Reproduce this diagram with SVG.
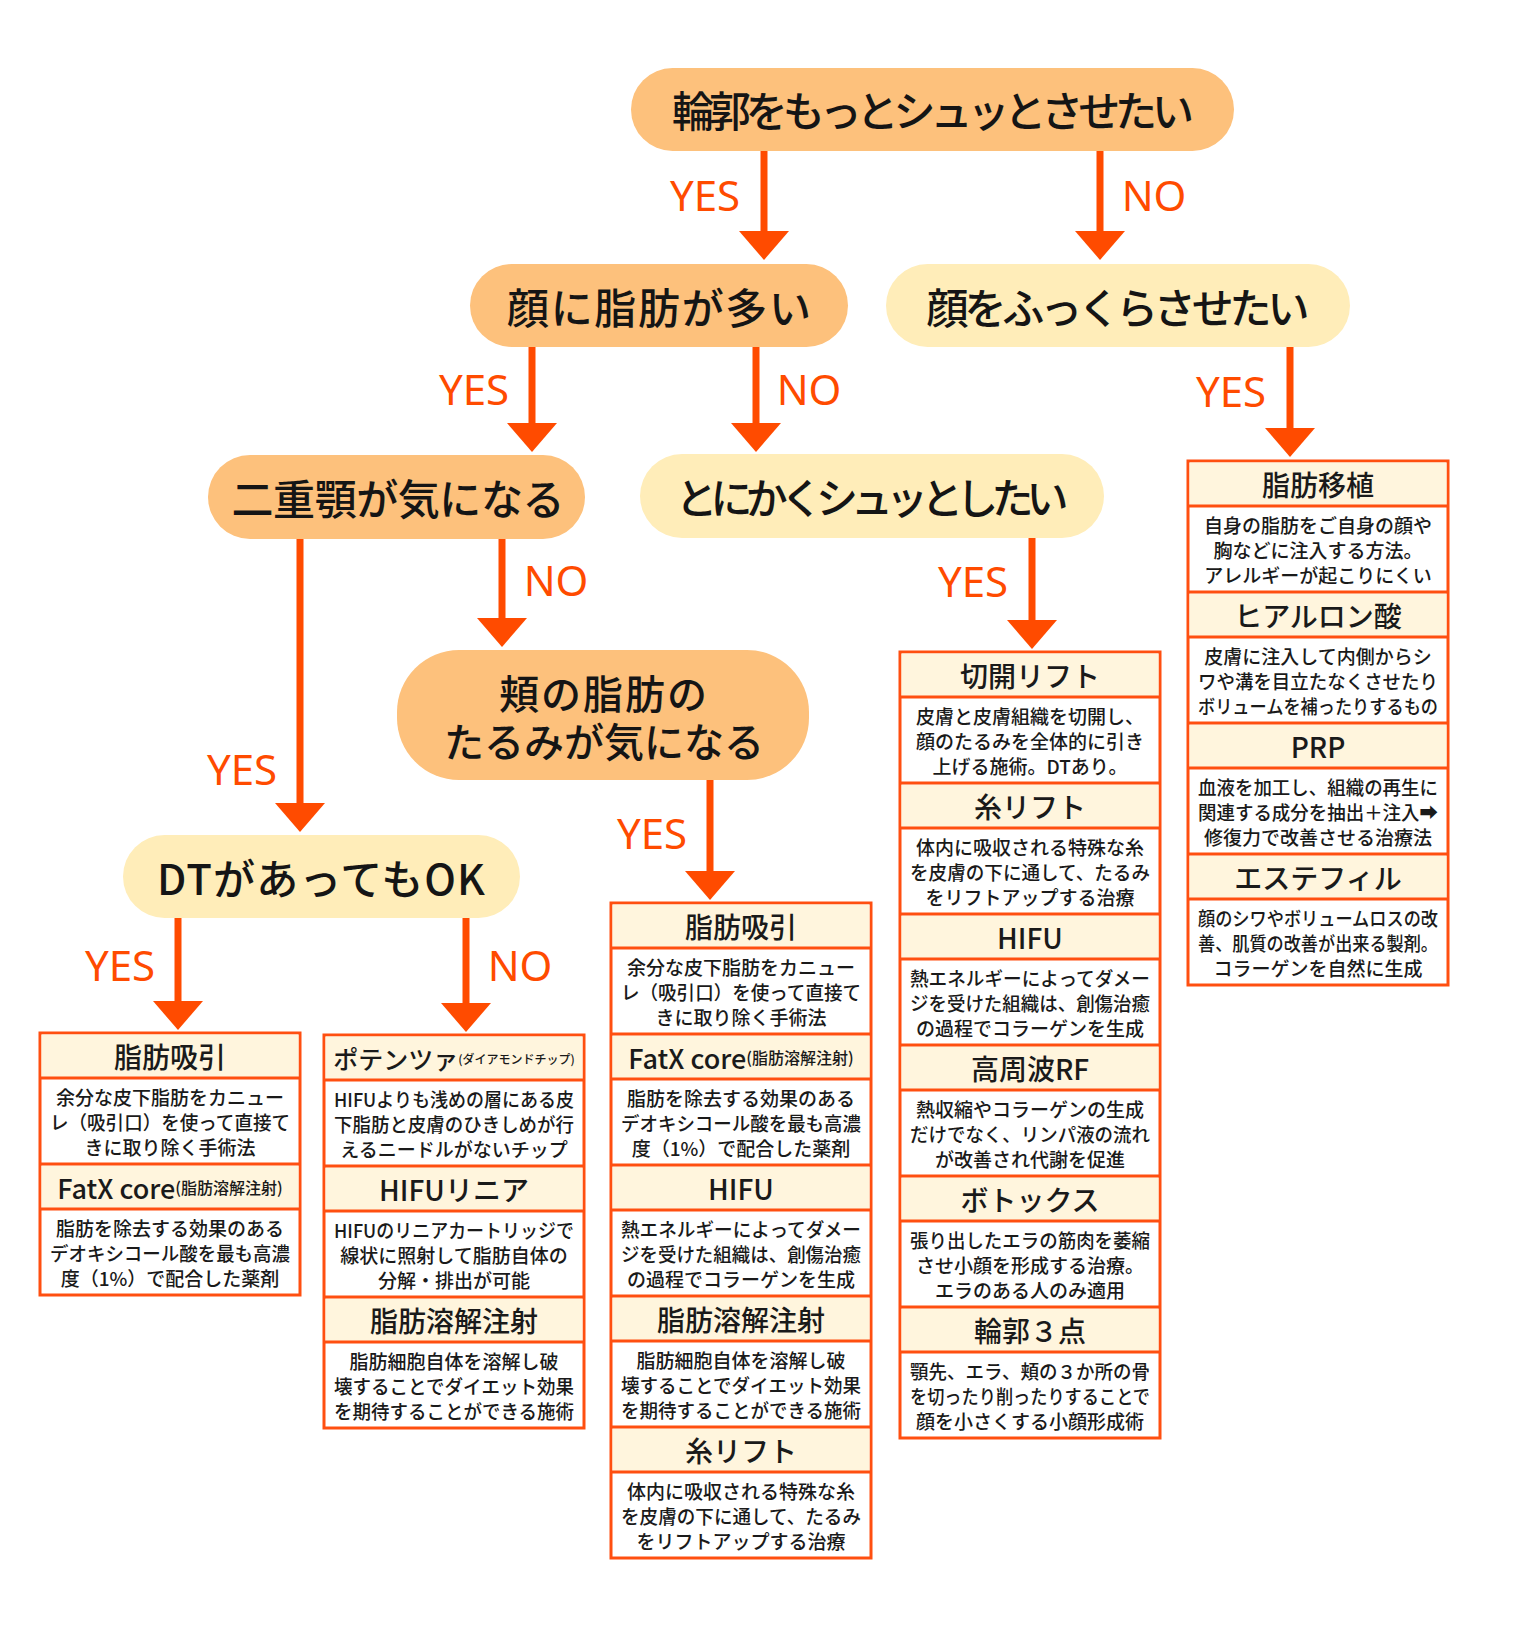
<svg xmlns="http://www.w3.org/2000/svg" xmlns:xlink="http://www.w3.org/1999/xlink" width="1537" height="1631" viewBox="0 0 1537 1631">
<style>
.dec{font-family:"Noto Sans CJK JP","Noto Sans",sans-serif;font-size:42px;font-weight:500;fill:#151515;text-anchor:middle;dominant-baseline:central}
.dec2{font-size:40px}
.lbl{font-family:"Noto Sans","Liberation Sans",sans-serif;font-size:42px;fill:#FF4B00;text-anchor:middle;dominant-baseline:central}
.or{fill:#FDC17C}
.ye{fill:#FFEDB9}
.ln{stroke:#FF4B00;stroke-width:7;fill:none}
.ah{fill:#FF4B00}
.box{fill:#fff;stroke:#FF4F10;stroke-width:3}
.hd{fill:#FFF5DD}
.sep{stroke:#FF4F10;stroke-width:3}
.ttl{font-family:"Noto Sans CJK JP","Noto Sans",sans-serif;font-size:28px;font-weight:500;fill:#1a1a1a;text-anchor:middle;dominant-baseline:central}
.sm{font-size:12px}
.sm2{font-size:16px}
.bd{font-family:"Noto Sans CJK JP","Noto Sans",sans-serif;font-size:19px;font-weight:500;fill:#1a1a1a;text-anchor:middle;dominant-baseline:central}
</style>
<defs>
<path id="ah" d="M-25,-29 L25,-29 L0,0 Z"/>
</defs>
<rect width="1537" height="1631" fill="#fff"/>

<g id="connectors">
<line class="ln" x1="764" y1="151" x2="764" y2="234"/><use xlink:href="#ah" class="ah" x="764" y="260"/>
<line class="ln" x1="1100" y1="151" x2="1100" y2="234"/><use xlink:href="#ah" class="ah" x="1100" y="260"/>
<line class="ln" x1="532" y1="347" x2="532" y2="426"/><use xlink:href="#ah" class="ah" x="532" y="452"/>
<line class="ln" x1="756" y1="347" x2="756" y2="426"/><use xlink:href="#ah" class="ah" x="756" y="452"/>
<line class="ln" x1="1290" y1="347" x2="1290" y2="431"/><use xlink:href="#ah" class="ah" x="1290" y="457"/>
<line class="ln" x1="300" y1="539" x2="300" y2="806"/><use xlink:href="#ah" class="ah" x="300" y="832"/>
<line class="ln" x1="502" y1="539" x2="502" y2="621"/><use xlink:href="#ah" class="ah" x="502" y="647"/>
<line class="ln" x1="1032" y1="538" x2="1032" y2="623"/><use xlink:href="#ah" class="ah" x="1032" y="649"/>
<line class="ln" x1="710" y1="780" x2="710" y2="874"/><use xlink:href="#ah" class="ah" x="710" y="900"/>
<line class="ln" x1="178" y1="918" x2="178" y2="1004"/><use xlink:href="#ah" class="ah" x="178" y="1030"/>
<line class="ln" x1="466" y1="918" x2="466" y2="1006"/><use xlink:href="#ah" class="ah" x="466" y="1032"/>
<text class="lbl" x="705" y="194">YES</text>
<text class="lbl" x="1154" y="194">NO</text>
<text class="lbl" x="474" y="388">YES</text>
<text class="lbl" x="809" y="388">NO</text>
<text class="lbl" x="1231" y="390">YES</text>
<text class="lbl" x="556" y="579">NO</text>
<text class="lbl" x="242" y="768">YES</text>
<text class="lbl" x="973" y="580">YES</text>
<text class="lbl" x="652" y="832">YES</text>
<text class="lbl" x="120" y="964">YES</text>
<text class="lbl" x="520" y="964">NO</text>
</g>

<g id="q-top">
<rect class="or" x="631" y="68" width="603" height="83" rx="41.5"/>
<text class="dec" x="933" y="108" textLength="522" lengthAdjust="spacing">輪郭をもっとシュッとさせたい</text>
</g>
<g id="q-fat">
<rect class="or" x="470" y="264" width="378" height="83" rx="41.5"/>
<text class="dec" x="659" y="305" textLength="304" lengthAdjust="spacing">顔に脂肪が多い</text>
</g>
<g id="q-plump">
<rect class="ye" x="886" y="264" width="464" height="83" rx="41.5"/>
<text class="dec" x="1118" y="305" textLength="383" lengthAdjust="spacing">顔をふっくらさせたい</text>
</g>
<g id="q-chin">
<rect class="or" x="208" y="455" width="377" height="84" rx="42"/>
<text class="dec" x="398" y="496" textLength="333" lengthAdjust="spacing">二重顎が気になる</text>
</g>
<g id="q-slim">
<rect class="ye" x="640" y="454" width="464" height="84" rx="42"/>
<text class="dec" x="872" y="495" textLength="393" lengthAdjust="spacing">とにかくシュッとしたい</text>
</g>
<g id="q-cheek">
<rect class="or" x="397" y="650" width="412" height="130" rx="62"/>
<text class="dec dec2"><tspan x="604" y="692" letter-spacing="2">頬の脂肪の</tspan><tspan x="604" y="740">たるみが気になる</tspan></text>
</g>
<g id="q-dt">
<rect class="ye" x="123" y="835" width="397" height="83" rx="41.5"/>
<text class="dec" x="321" y="876" textLength="328" lengthAdjust="spacing">DTがあってもOK</text>
</g>

<g id="box-a">
<rect class="box" x="40" y="1033" width="260" height="262"/>
<rect class="hd" x="41.5" y="1034.5" width="257" height="43.5"/>
<rect class="hd" x="41.5" y="1165.5" width="257" height="43.5"/>
<line class="sep" x1="40" y1="1078" x2="300" y2="1078"/>
<line class="sep" x1="40" y1="1164" x2="300" y2="1164"/>
<line class="sep" x1="40" y1="1209" x2="300" y2="1209"/>
<text class="ttl" x="170" y="1056">脂肪吸引</text>
<text class="bd" x="170" y="1096">余分な皮下脂肪をカニュー</text>
<text class="bd" x="170" y="1121" textLength="240" lengthAdjust="spacingAndGlyphs">レ（吸引口）を使って直接て</text>
<text class="bd" x="170" y="1146">きに取り除く手術法</text>
<text class="ttl" x="170" y="1187"><tspan font-size="27">FatX core</tspan><tspan class="sm2">(脂肪溶解注射)</tspan></text>
<text class="bd" x="170" y="1227">脂肪を除去する効果のある</text>
<text class="bd" x="170" y="1252" textLength="240" lengthAdjust="spacingAndGlyphs">デオキシコール酸を最も高濃</text>
<text class="bd" x="170" y="1277">度（1%）で配合した薬剤</text>
</g>

<g id="box-b">
<rect class="box" x="324" y="1035" width="260" height="393"/>
<rect class="hd" x="325.5" y="1036.5" width="257" height="43.5"/>
<rect class="hd" x="325.5" y="1167.5" width="257" height="43.5"/>
<rect class="hd" x="325.5" y="1298.5" width="257" height="43.5"/>
<line class="sep" x1="324" y1="1080" x2="584" y2="1080"/>
<line class="sep" x1="324" y1="1166" x2="584" y2="1166"/>
<line class="sep" x1="324" y1="1211" x2="584" y2="1211"/>
<line class="sep" x1="324" y1="1297" x2="584" y2="1297"/>
<line class="sep" x1="324" y1="1342" x2="584" y2="1342"/>
<text class="ttl" x="454" y="1058"><tspan font-size="25">ポテンツァ</tspan><tspan class="sm">(ダイアモンドチップ)</tspan></text>
<text class="bd" x="454" y="1098" textLength="240" lengthAdjust="spacingAndGlyphs">HIFUよりも浅めの層にある皮</text>
<text class="bd" x="454" y="1123" textLength="240" lengthAdjust="spacingAndGlyphs">下脂肪と皮膚のひきしめが行</text>
<text class="bd" x="454" y="1148">えるニードルがないチップ</text>
<text class="ttl" x="454" y="1189">HIFUリニア</text>
<text class="bd" x="454" y="1229" textLength="240" lengthAdjust="spacingAndGlyphs">HIFUのリニアカートリッジで</text>
<text class="bd" x="454" y="1254">線状に照射して脂肪自体の</text>
<text class="bd" x="454" y="1279">分解・排出が可能</text>
<text class="ttl" x="454" y="1320">脂肪溶解注射</text>
<text class="bd" x="454" y="1360">脂肪細胞自体を溶解し破</text>
<text class="bd" x="454" y="1385" textLength="240" lengthAdjust="spacingAndGlyphs">壊することでダイエット効果</text>
<text class="bd" x="454" y="1410" textLength="240" lengthAdjust="spacingAndGlyphs">を期待することができる施術</text>
</g>

<g id="box-c">
<rect class="box" x="611" y="903" width="260" height="655"/>
<rect class="hd" x="612.5" y="904.5" width="257" height="43.5"/>
<rect class="hd" x="612.5" y="1035.5" width="257" height="43.5"/>
<rect class="hd" x="612.5" y="1166.5" width="257" height="43.5"/>
<rect class="hd" x="612.5" y="1297.5" width="257" height="43.5"/>
<rect class="hd" x="612.5" y="1428.5" width="257" height="43.5"/>
<line class="sep" x1="611" y1="948" x2="871" y2="948"/>
<line class="sep" x1="611" y1="1034" x2="871" y2="1034"/>
<line class="sep" x1="611" y1="1079" x2="871" y2="1079"/>
<line class="sep" x1="611" y1="1165" x2="871" y2="1165"/>
<line class="sep" x1="611" y1="1210" x2="871" y2="1210"/>
<line class="sep" x1="611" y1="1296" x2="871" y2="1296"/>
<line class="sep" x1="611" y1="1341" x2="871" y2="1341"/>
<line class="sep" x1="611" y1="1427" x2="871" y2="1427"/>
<line class="sep" x1="611" y1="1472" x2="871" y2="1472"/>
<text class="ttl" x="741" y="926">脂肪吸引</text>
<text class="bd" x="741" y="966">余分な皮下脂肪をカニュー</text>
<text class="bd" x="741" y="991" textLength="240" lengthAdjust="spacingAndGlyphs">レ（吸引口）を使って直接て</text>
<text class="bd" x="741" y="1016">きに取り除く手術法</text>
<text class="ttl" x="741" y="1057"><tspan font-size="27">FatX core</tspan><tspan class="sm2">(脂肪溶解注射)</tspan></text>
<text class="bd" x="741" y="1097">脂肪を除去する効果のある</text>
<text class="bd" x="741" y="1122" textLength="240" lengthAdjust="spacingAndGlyphs">デオキシコール酸を最も高濃</text>
<text class="bd" x="741" y="1147">度（1%）で配合した薬剤</text>
<text class="ttl" x="741" y="1188">HIFU</text>
<text class="bd" x="741" y="1228" textLength="240" lengthAdjust="spacingAndGlyphs">熱エネルギーによってダメー</text>
<text class="bd" x="741" y="1253" textLength="240" lengthAdjust="spacingAndGlyphs">ジを受けた組織は、創傷治癒</text>
<text class="bd" x="741" y="1278">の過程でコラーゲンを生成</text>
<text class="ttl" x="741" y="1319">脂肪溶解注射</text>
<text class="bd" x="741" y="1359">脂肪細胞自体を溶解し破</text>
<text class="bd" x="741" y="1384" textLength="240" lengthAdjust="spacingAndGlyphs">壊することでダイエット効果</text>
<text class="bd" x="741" y="1409" textLength="240" lengthAdjust="spacingAndGlyphs">を期待することができる施術</text>
<text class="ttl" x="741" y="1450">糸リフト</text>
<text class="bd" x="741" y="1490">体内に吸収される特殊な糸</text>
<text class="bd" x="741" y="1515" textLength="240" lengthAdjust="spacingAndGlyphs">を皮膚の下に通して、たるみ</text>
<text class="bd" x="741" y="1540">をリフトアップする治療</text>
</g>

<g id="box-d">
<rect class="box" x="900" y="652" width="260" height="786"/>
<rect class="hd" x="901.5" y="653.5" width="257" height="43.5"/>
<rect class="hd" x="901.5" y="784.5" width="257" height="43.5"/>
<rect class="hd" x="901.5" y="915.5" width="257" height="43.5"/>
<rect class="hd" x="901.5" y="1046.5" width="257" height="43.5"/>
<rect class="hd" x="901.5" y="1177.5" width="257" height="43.5"/>
<rect class="hd" x="901.5" y="1308.5" width="257" height="43.5"/>
<line class="sep" x1="900" y1="697" x2="1160" y2="697"/>
<line class="sep" x1="900" y1="783" x2="1160" y2="783"/>
<line class="sep" x1="900" y1="828" x2="1160" y2="828"/>
<line class="sep" x1="900" y1="914" x2="1160" y2="914"/>
<line class="sep" x1="900" y1="959" x2="1160" y2="959"/>
<line class="sep" x1="900" y1="1045" x2="1160" y2="1045"/>
<line class="sep" x1="900" y1="1090" x2="1160" y2="1090"/>
<line class="sep" x1="900" y1="1176" x2="1160" y2="1176"/>
<line class="sep" x1="900" y1="1221" x2="1160" y2="1221"/>
<line class="sep" x1="900" y1="1307" x2="1160" y2="1307"/>
<line class="sep" x1="900" y1="1352" x2="1160" y2="1352"/>
<text class="ttl" x="1030" y="675">切開リフト</text>
<text class="bd" x="1030" y="715">皮膚と皮膚組織を切開し、</text>
<text class="bd" x="1030" y="740">顔のたるみを全体的に引き</text>
<text class="bd" x="1030" y="765">上げる施術。DTあり。</text>
<text class="ttl" x="1030" y="806">糸リフト</text>
<text class="bd" x="1030" y="846">体内に吸収される特殊な糸</text>
<text class="bd" x="1030" y="871" textLength="240" lengthAdjust="spacingAndGlyphs">を皮膚の下に通して、たるみ</text>
<text class="bd" x="1030" y="896">をリフトアップする治療</text>
<text class="ttl" x="1030" y="937">HIFU</text>
<text class="bd" x="1030" y="977" textLength="240" lengthAdjust="spacingAndGlyphs">熱エネルギーによってダメー</text>
<text class="bd" x="1030" y="1002" textLength="240" lengthAdjust="spacingAndGlyphs">ジを受けた組織は、創傷治癒</text>
<text class="bd" x="1030" y="1027">の過程でコラーゲンを生成</text>
<text class="ttl" x="1030" y="1068">高周波RF</text>
<text class="bd" x="1030" y="1108">熱収縮やコラーゲンの生成</text>
<text class="bd" x="1030" y="1133" textLength="240" lengthAdjust="spacingAndGlyphs">だけでなく、リンパ液の流れ</text>
<text class="bd" x="1030" y="1158">が改善され代謝を促進</text>
<text class="ttl" x="1030" y="1199">ボトックス</text>
<text class="bd" x="1030" y="1239" textLength="240" lengthAdjust="spacingAndGlyphs">張り出したエラの筋肉を萎縮</text>
<text class="bd" x="1030" y="1264">させ小顔を形成する治療。</text>
<text class="bd" x="1030" y="1289">エラのある人のみ適用</text>
<text class="ttl" x="1030" y="1330">輪郭３点</text>
<text class="bd" x="1030" y="1370" textLength="240" lengthAdjust="spacingAndGlyphs">顎先、エラ、頬の３か所の骨</text>
<text class="bd" x="1030" y="1395" textLength="240" lengthAdjust="spacingAndGlyphs">を切ったり削ったりすることで</text>
<text class="bd" x="1030" y="1420">顔を小さくする小顔形成術</text>
</g>

<g id="box-e">
<rect class="box" x="1188" y="461" width="260" height="524"/>
<rect class="hd" x="1189.5" y="462.5" width="257" height="43.5"/>
<rect class="hd" x="1189.5" y="593.5" width="257" height="43.5"/>
<rect class="hd" x="1189.5" y="724.5" width="257" height="43.5"/>
<rect class="hd" x="1189.5" y="855.5" width="257" height="43.5"/>
<line class="sep" x1="1188" y1="506" x2="1448" y2="506"/>
<line class="sep" x1="1188" y1="592" x2="1448" y2="592"/>
<line class="sep" x1="1188" y1="637" x2="1448" y2="637"/>
<line class="sep" x1="1188" y1="723" x2="1448" y2="723"/>
<line class="sep" x1="1188" y1="768" x2="1448" y2="768"/>
<line class="sep" x1="1188" y1="854" x2="1448" y2="854"/>
<line class="sep" x1="1188" y1="899" x2="1448" y2="899"/>
<text class="ttl" x="1318" y="484">脂肪移植</text>
<text class="bd" x="1318" y="524">自身の脂肪をご自身の顔や</text>
<text class="bd" x="1318" y="549">胸などに注入する方法。</text>
<text class="bd" x="1318" y="574">アレルギーが起こりにくい</text>
<text class="ttl" x="1318" y="615">ヒアルロン酸</text>
<text class="bd" x="1318" y="655">皮膚に注入して内側からシ</text>
<text class="bd" x="1318" y="680" textLength="240" lengthAdjust="spacingAndGlyphs">ワや溝を目立たなくさせたり</text>
<text class="bd" x="1318" y="705" textLength="240" lengthAdjust="spacingAndGlyphs">ボリュームを補ったりするもの</text>
<text class="ttl" x="1318" y="746">PRP</text>
<text class="bd" x="1318" y="786" textLength="240" lengthAdjust="spacingAndGlyphs">血液を加工し、組織の再生に</text>
<text class="bd" x="1318" y="811" textLength="240" lengthAdjust="spacingAndGlyphs">関連する成分を抽出＋注入➡</text>
<text class="bd" x="1318" y="836">修復力で改善させる治療法</text>
<text class="ttl" x="1318" y="877">エステフィル</text>
<text class="bd" x="1318" y="917" textLength="240" lengthAdjust="spacingAndGlyphs">顔のシワやボリュームロスの改</text>
<text class="bd" x="1318" y="942" textLength="240" lengthAdjust="spacingAndGlyphs">善、肌質の改善が出来る製剤。</text>
<text class="bd" x="1318" y="967">コラーゲンを自然に生成</text>
</g>
</svg>
